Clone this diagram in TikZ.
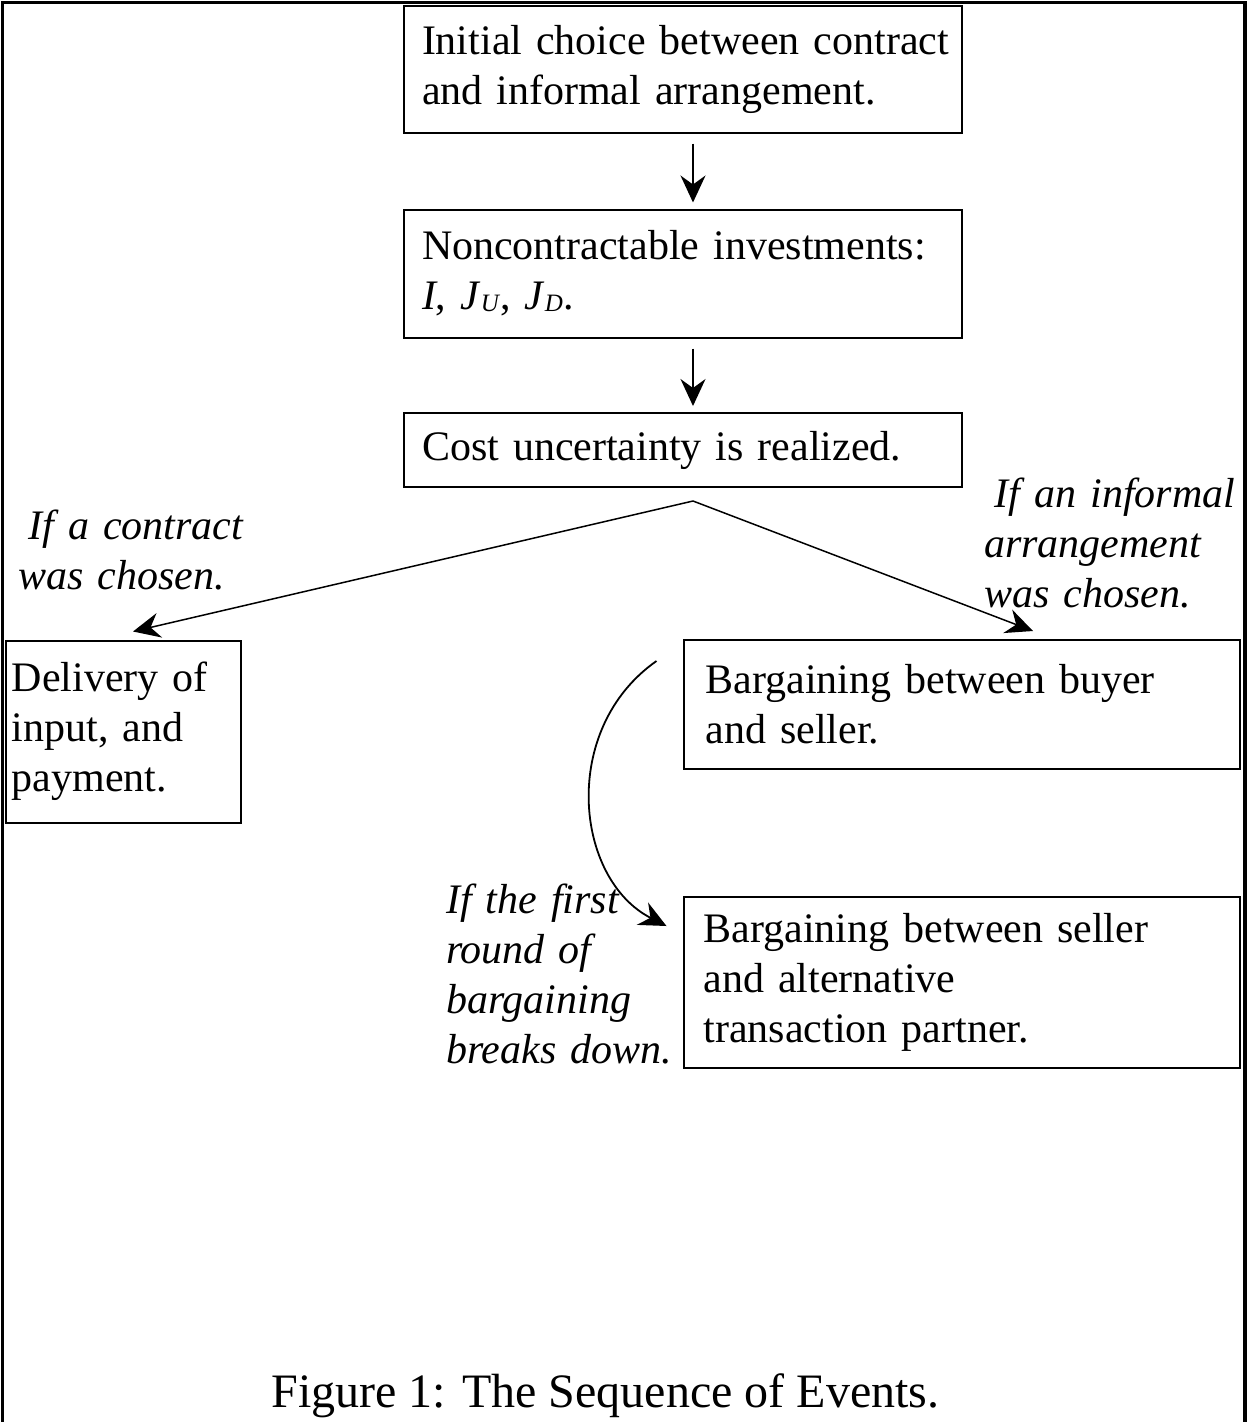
\documentclass[tikz,border=0pt]{standalone}
\usepackage{fontspec}
\setmainfont{Liberation Serif}
\usetikzlibrary{arrows.meta}
\newcommand\lowsub[1]{\raisebox{-2pt}{\fontsize{25}{25}\selectfont\textit{#1}}}
\begin{document}
\begin{tikzpicture}[x=1pt,y=-1pt,
  box/.style={draw, line width=2pt, inner ysep=0pt, align=left, font=\fontsize{42}{50}\selectfont},
  lab/.style={inner sep=0pt, align=left, anchor=base west, font=\fontsize{42}{50}\selectfont\itshape},
  arr/.style={-{Stealth[length=27pt,width=25pt,inset=9pt]}, line width=1.8pt},
  thinarr/.style={arr, line width=1.5pt}]
\useasboundingbox (0,0) rectangle (1247,1422);
\draw[line width=3.5pt] (2.5,1430) -- (2.5,2.5) -- (1245,2.5) -- (1245,1430);

\node[box, minimum height=127pt, text width=522pt, inner xsep=18pt] (init) at (683,69)
  {\mbox{Initial choice between contract}\\\mbox{and informal arrangement.}};
\node[box, minimum height=128pt, text width=522pt, inner xsep=18pt] (invest) at (683,273.5)
  {\mbox{Noncontractable investments:}\\\textit{I}, \textit{J}\lowsub{U}, \textit{J}\lowsub{D}.};
\node[box, minimum height=74pt, text width=522pt, inner xsep=18pt] (cost) at (683,450)
  {\mbox{Cost uncertainty is realized.}};
\node[box, minimum height=182pt, text width=223pt, inner xsep=6pt] (deliv) at (123.5,731.5)
  {Delivery of\\input, and\\payment.};
\node[box, minimum height=129pt, text width=512pt, inner xsep=22pt] (barg1) at (961.5,704.5)
  {\mbox{Bargaining between buyer}\\and seller.};
\node[box, minimum height=171pt, text width=516pt, inner xsep=20pt] (barg2) at (961.5,982.5)
  {\mbox{Bargaining between seller}\\and alternative\\\mbox{transaction partner.}};

\draw[arr] ([xshift=10pt,yshift=-10pt]init.south) -- ([xshift=10pt,yshift=6pt]invest.north);
\draw[arr] ([xshift=10pt,yshift=-10pt]invest.south) -- ([xshift=10pt,yshift=6pt]cost.north);

\coordinate (split) at ([xshift=10pt,yshift=-13pt]cost.south);
\draw[thinarr] (split) -- ([xshift=9.5pt,yshift=8pt]deliv.north);
\draw[thinarr] (split) -- ([xshift=71.5pt,yshift=8pt]barg1.north);

\draw[arr] ([xshift=-26pt,yshift=-22pt]barg1.north west) .. controls +(-97,68) and +(-92,-47) .. ([xshift=-16pt,yshift=-30pt]barg2.north west);

\node[lab, text width=240pt] (lc) at (18,539) {\hspace*{0.25em}If a contract\\was chosen.};
\node[lab, text width=262pt] (li) at (984,507) {\hspace*{0.25em}If an informal\\arrangement\\was chosen.};
\node[lab, text width=240pt] (lb) at (446,913) {If the first\\round of\\bargaining\\breaks down.};

\node[font=\fontsize{48}{56}\selectfont, anchor=base, inner sep=0pt] (cap) at (605.5,1407)
  {Figure 1: The Sequence of Events.};
\end{tikzpicture}
\end{document}
